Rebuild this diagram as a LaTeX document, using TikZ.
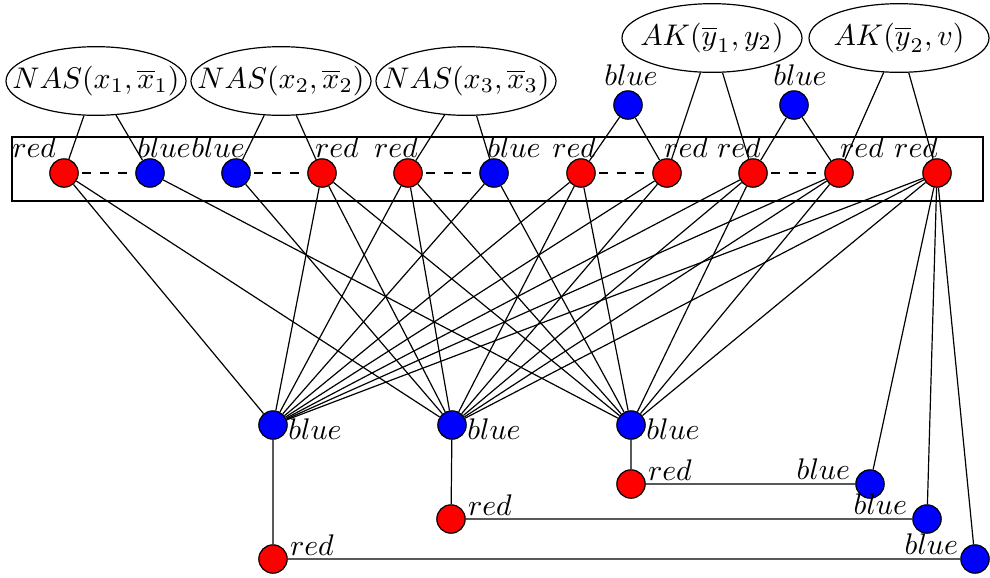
\documentclass[tikz,border=0pt]{standalone}
\usepackage{amsmath,amssymb}
\usepackage{xcolor}
\usepackage{tikz}
\usetikzlibrary{shapes,positioning,calc,backgrounds}

\begin{document}
\begin{tikzpicture}[x=0.335pt,y=-0.335pt,
  vred/.style={circle,draw,fill=red,minimum size=9.5pt,inner sep=0pt},
  vblue/.style={circle,draw,fill=blue,minimum size=9.5pt,inner sep=0pt},
  gadget/.style={ellipse,draw,minimum width=60.3pt,minimum height=23pt,inner sep=0pt},
  every label/.style={inner sep=0pt},
  label distance=0pt]
  \useasboundingbox (0,0) rectangle (990,577);

  % Gadgets
  \node[gadget] (nas1) at (96,81) {};
  \node (nas1t) at (nas1) {$NAS(x_1,\overline{x}_1)$};
  \node[gadget] (nas2) at (281,81) {};
  \node (nas2t) at (nas2) {$NAS(x_2,\overline{x}_2)$};
  \node[gadget] (nas3) at (466,81) {};
  \node (nas3t) at (nas3) {$NAS(x_3,\overline{x}_3)$};
  \node[gadget] (ak1) at (712,38) {};
  \node (ak1t) at (ak1) {$AK(\overline{y}_1,y_2)$};
  \node[gadget] (ak2) at (899,38) {};
  \node (ak2t) at (ak2) {$AK(\overline{y}_2,v)$};

  % Literal row
  \draw (12,137) rectangle (983,201);
  \node[vred,label={[xshift=-10pt]above:$red$}] (t1) at (64,173) {};
  \node[vblue,label={[xshift=4.7pt]above:$blue$}] (t2) at (150,173) {};
  \node[vblue,label={[xshift=-6pt]above:$blue$}] (t3) at (236,173) {};
  \node[vred,label={[xshift=5pt]above:$red$}] (t4) at (322,173) {};
  \node[vred,label={[xshift=-4pt]above:$red$}] (t5) at (408,173) {};
  \node[vblue,label={[xshift=6.7pt]above:$blue$}] (t6) at (494,173) {};
  \node[vred,label={[xshift=-2.3pt]above:$red$}] (t7) at (581,173) {};
  \node[vred,label={[xshift=6.4pt]above:$red$}] (t8) at (667,173) {};
  \node[vred,label={[xshift=-4.7pt]above:$red$}] (t9) at (753,173) {};
  \node[vred,label={[xshift=7.7pt]above:$red$}] (t10) at (839,173) {};
  \node[vred,label={[xshift=-7pt]above:$red$}] (t11) at (937,173) {};

  % Extra vertices of the AK gadgets
  \node[vblue,label={[xshift=1pt,yshift=1.3pt]above:$blue$}] (a1) at (628,105) {};
  \node[vblue,label={[xshift=2pt,yshift=1.3pt]above:$blue$}] (a2) at (794,105) {};

  % Clause vertices
  \node[vblue,label={[yshift=-1.5pt]right:$blue$}] (c1) at (273,425) {};
  \node[vblue,label={[yshift=-1.5pt]right:$blue$}] (c2) at (452,425) {};
  \node[vblue,label={[yshift=-1.5pt]right:$blue$}] (c3) at (631,425) {};
  \node[vred,label={[xshift=2pt,yshift=-2.5pt]above right:$red$}] (r3) at (631,484) {};
  \node[vred,label={[xshift=2pt,yshift=-2.5pt]above right:$red$}] (r2) at (451,519) {};
  \node[vred,label={[xshift=2pt,yshift=-2.5pt]above right:$red$}] (r1) at (273,559) {};
  \node[vblue,label={[xshift=-3pt,yshift=-2.3pt]above left:$blue$}] (q1) at (870,484) {};
  \node[vblue,label={[xshift=-3pt,yshift=-2.3pt]above left:$blue$}] (q2) at (927,519) {};
  \node[vblue,label={[xshift=-2pt,yshift=-2.3pt]above left:$blue$}] (q3) at (975,559) {};

  % Gadget edges
  \foreach \g/\t in {nas1/t1,nas1/t2,nas2/t3,nas2/t4,nas3/t5,nas3/t6,ak1/t8,ak1/t9,ak2/t10,ak2/t11,a1/t7,a1/t8,a2/t9,a2/t10}
    \draw (\g) -- (\t);
  \begin{scope}[on background layer]
    \foreach \a/\b in {t1/t2,t3/t4,t5/t6,t7/t8,t9/t10}
      \draw[dashed] (\a.center) -- (\b.center);
  \end{scope}

  % Clause edges
  \foreach \t in {t1,t4,t5,t6,t7,t8,t9,t10,t11}
    \draw (\t) -- (c1);
  \foreach \t in {t1,t3,t4,t5,t7,t8,t9,t10,t11}
    \draw (\t) -- (c2);
  \foreach \t in {t2,t4,t5,t6,t7,t9,t10,t11}
    \draw (\t) -- (c3);

  % Chains to v
  \draw (c1) -- (r1) -- (q3) -- (t11);
  \draw (c2) -- (r2) -- (q2) -- (t11);
  \draw (c3) -- (r3) -- (q1) -- (t11);
\end{tikzpicture}
\end{document}
